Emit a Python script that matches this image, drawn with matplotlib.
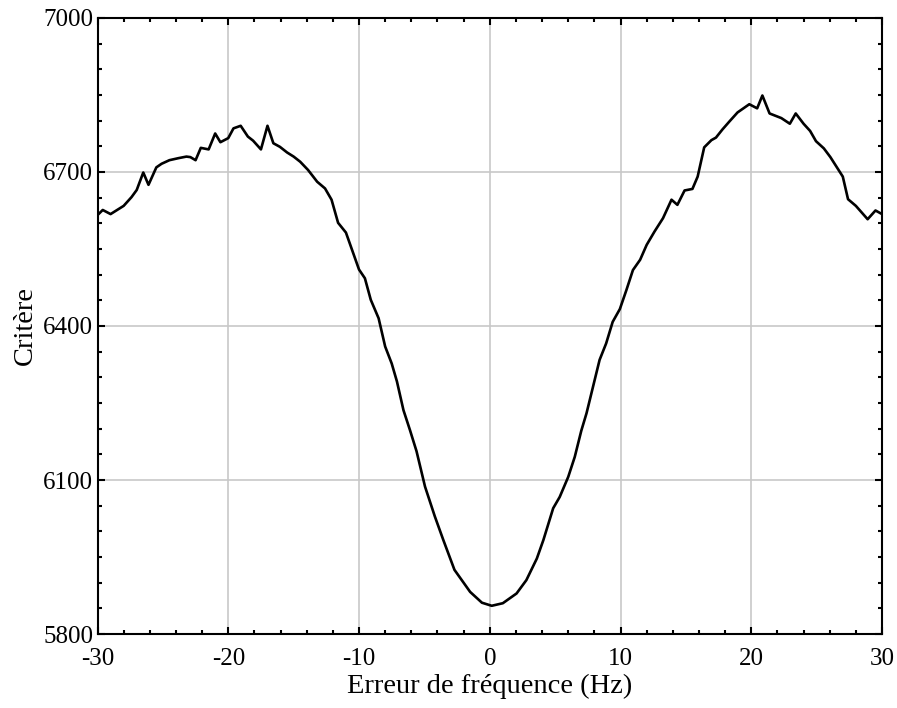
import numpy as np
import matplotlib
matplotlib.use("Agg")
import matplotlib.pyplot as plt
from matplotlib.ticker import MultipleLocator

plt.rcParams['font.family'] = ['Liberation Serif', 'DejaVu Serif']
plt.rcParams['axes.unicode_minus'] = False

# valeurs
freq_err = [-30, -29.6, -29.0, -28.0, -27.4, -27.0, -26.5, -26.1, -25.5, -25.1,
            -24.5, -23.8, -23.2, -22.9, -22.5, -22.1, -21.5, -21.0, -20.6, -20.0,
            -19.6, -19.05, -18.5, -18.1, -17.5, -17.0, -16.55, -16.05, -15.5, -15.0,
            -14.5, -13.9, -13.2, -12.6, -12.1, -11.6, -11.0, -10.5, -10.0, -9.55,
            -9.1, -8.5, -8.0, -7.5, -7.1, -6.6, -6.1, -5.6, -4.95, -4.2,
            -3.55, -2.7, -1.5, -0.6, 0.15, 1.0, 2.05, 2.8, 3.6, 4.1,
            4.85, 5.35, 6.0, 6.5, 7.0, 7.4, 7.9, 8.4, 8.9, 9.4,
            9.95, 10.45, 10.95, 11.5, 12.0, 12.6, 13.25, 13.9, 14.35, 14.9,
            15.5, 15.9, 16.4, 16.95, 17.3, 17.8, 18.35, 18.95, 19.85, 20.45,
            20.85, 21.4, 22.3, 22.95, 23.4, 24.0, 24.5, 24.95, 25.55, 26.05,
            26.55, 27.0, 27.4, 28.0, 28.9, 29.5, 30.0]
critere = [6616, 6626, 6618, 6634, 6651, 6665, 6699, 6675, 6709, 6716,
           6723, 6727, 6730, 6729, 6723, 6747, 6744, 6775, 6758, 6766,
           6785, 6790, 6769, 6761, 6744, 6790, 6756, 6749, 6738, 6730,
           6720, 6704, 6681, 6668, 6646, 6601, 6582, 6546, 6510, 6493,
           6451, 6415, 6360, 6327, 6292, 6236, 6197, 6156, 6087, 6029,
           5983, 5925, 5882, 5861, 5855, 5860, 5879, 5905, 5947, 5983,
           6045, 6067, 6106, 6145, 6196, 6230, 6282, 6334, 6366, 6408,
           6433, 6470, 6509, 6529, 6558, 6584, 6610, 6646, 6636, 6664,
           6667, 6691, 6748, 6762, 6767, 6783, 6799, 6816, 6832, 6824,
           6849, 6814, 6805, 6794, 6814, 6794, 6780, 6760, 6746, 6729,
           6709, 6691, 6647, 6634, 6608, 6625, 6618]

x_ticks = [-30, -20, -10, 0, 10, 20, 30]
y_ticks = [5800, 6100, 6400, 6700, 7000]

fig = plt.figure(figsize=(8.97, 7.08), dpi=100)
ax = fig.add_axes([0.1087, 0.1045, 0.8746, 0.8701])

ax.plot(freq_err, critere, color='black', lw=1.9, zorder=3)

ax.set_xlim(-30, 30)
ax.set_ylim(5800, 7000)
ax.set_xticks(x_ticks)
ax.set_yticks(y_ticks)
ax.xaxis.set_minor_locator(MultipleLocator(2))
ax.yaxis.set_minor_locator(MultipleLocator(50))
ax.grid(True, which='major', color='#c8c8c8', lw=1.2, zorder=0)

ax.tick_params(which='both', direction='in', top=True, right=True,
               labelsize=18, width=1.5)
ax.tick_params(axis='x', which='major', pad=10)
ax.tick_params(axis='y', which='major', pad=3)
ax.tick_params(which='major', length=5)
ax.tick_params(which='minor', length=3)
for s in ax.spines.values():
    s.set_linewidth(1.5)

ax.set_xlabel('Erreur de fréquence (Hz)', fontsize=20.5, labelpad=3)
ax.set_ylabel('Critère', fontsize=20.5, labelpad=4)

fig.savefig('out.png', dpi=100)
